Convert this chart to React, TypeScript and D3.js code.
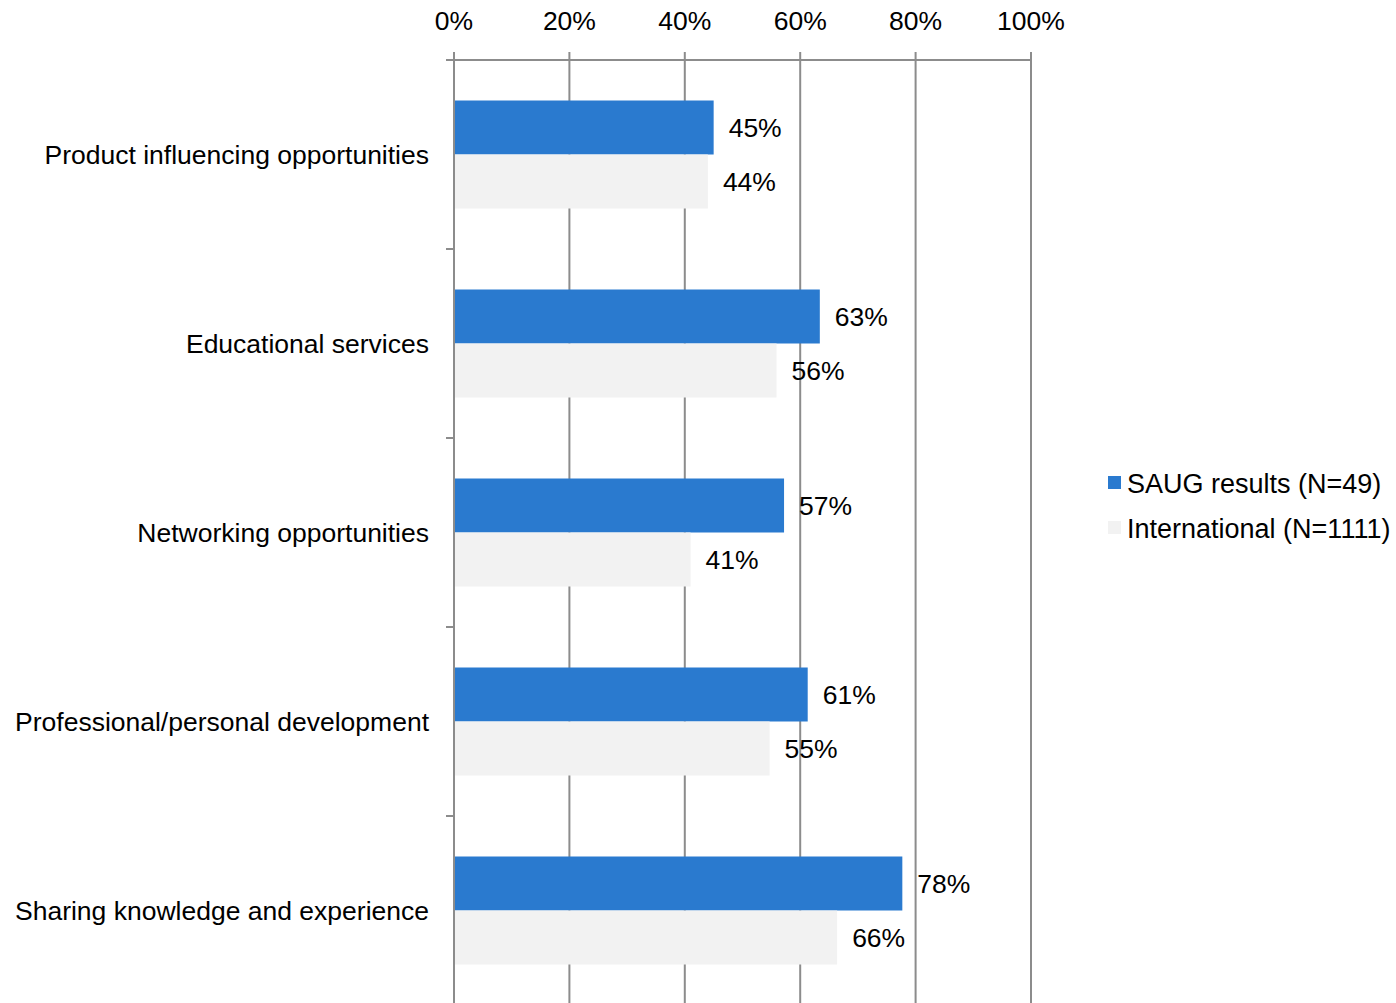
import React from "react";
import * as d3 from "d3";

const categories = [
  "Product influencing opportunities",
  "Educational services",
  "Networking opportunities",
  "Professional/personal development",
  "Sharing knowledge and experience",
];
const saugValues = [45.0, 63.4, 57.2, 61.3, 77.7];
const intlValues = [44.0, 55.9, 41.0, 54.7, 66.4];
const seriesNames = ["SAUG results (N=49)", "International (N=1111)"];
const seriesColors = ["#2A7ACF", "#F2F2F2"];
const xTicks = [0, 20, 40, 60, 80, 100];

const W = 1396;
const H = 1003;
const FONT = "'Liberation Sans', Arial, sans-serif";
const FS = 26.5;

export default function App() {
  const x = d3.scaleLinear().domain([0, 100]).range([454, 1031]);
  const y = d3.scaleBand<string>().domain(categories).range([60, 1005]).paddingInner(0).paddingOuter(0);
  const bw = y.bandwidth();
  const barH = 54;
  const series = [saugValues, intlValues];
  const gridColor = "#8C8C8C";

  return (
    <svg
      width={W}
      height={H}
      style={{ position: "absolute", left: 0, top: 0, display: "block", background: "#fff" }}
      fontFamily={FONT}
    >
      {xTicks.map((t) => (
        <line key={"g" + t} x1={x(t)} x2={x(t)} y1={52} y2={H} stroke={gridColor} strokeWidth={2} />
      ))}
      <line x1={446} x2={x(100)} y1={60} y2={60} stroke={gridColor} strokeWidth={2} />
      {xTicks.map((t) => (
        <text key={"t" + t} x={x(t)} y={29.5} textAnchor="middle" fontSize={FS} fill="#000">
          {t + "%"}
        </text>
      ))}
      {categories.map((c, i) => {
        const y0 = (y(c) as number) + bw / 2 - barH;
        return (
          <g key={c}>
            {series.map((vals, s) => (
              <g key={s}>
                <rect
                  x={x(0)}
                  y={y0 + s * barH}
                  width={x(vals[i]) - x(0)}
                  height={barH}
                  fill={seriesColors[s]}
                />
                <text
                  x={x(vals[i]) + 15}
                  y={y0 + s * barH + barH / 2}
                  dy="0.36em"
                  fontSize={FS}
                  fill="#000"
                >
                  {Math.round(vals[i]) + "%"}
                </text>
              </g>
            ))}
          </g>
        );
      })}
      <line x1={x(0)} x2={x(0)} y1={52} y2={H} stroke={gridColor} strokeWidth={2} />
      {categories.map((c, i) =>
        i > 0 ? (
          <line key={"lt" + i} x1={446} x2={x(0)} y1={y(c) as number} y2={y(c) as number} stroke={gridColor} strokeWidth={2} />
        ) : null
      )}
      {categories.map((c) => (
        <text
          key={"c" + c}
          x={429}
          y={(y(c) as number) + bw / 2}
          dy="0.36em"
          textAnchor="end"
          fontSize={FS}
          fill="#000"
        >
          {c}
        </text>
      ))}
      {seriesNames.map((n, s) => (
        <g key={n} transform={`translate(1108, ${483 + s * 45})`}>
          <rect x={0} y={-7} width={13} height={13} fill={seriesColors[s]} />
          <text x={19} y={0} dy="0.36em" fontSize={27} fill="#000">
            {n}
          </text>
        </g>
      ))}
    </svg>
  );
}
